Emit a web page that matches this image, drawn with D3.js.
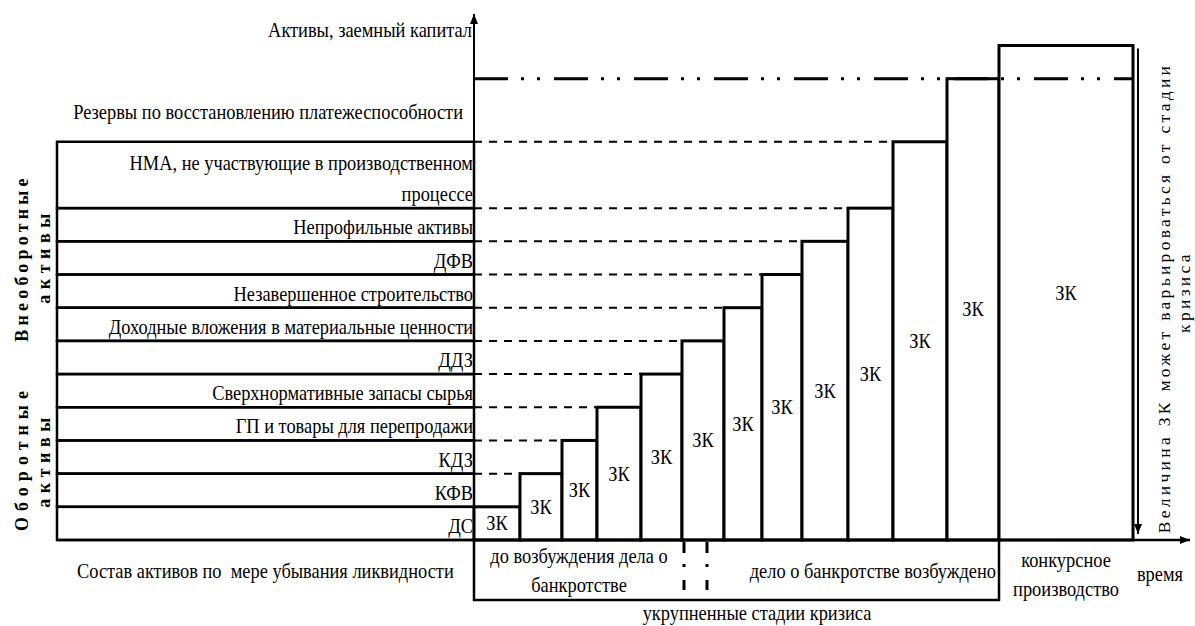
<!DOCTYPE html>
<html>
<head>
<meta charset="utf-8">
<script src="https://cdn.jsdelivr.net/npm/d3@7"></script>
</head>
<body style="margin:0">
<script>
// assets listed from most liquid (bottom) to least liquid (top)
const assetLabels = [
  ['ДС'], ['КФВ'], ['КДЗ'], ['ГП и товары для перепродажи'], ['Сверхнормативные запасы сырья'],
  ['ДДЗ'], ['Доходные вложения в материальные ценности'], ['Незавершенное строительство'],
  ['ДФВ'], ['Непрофильные активы'], ['НМА, не участвующие в производственном', 'процессе']
];
const assetSpans = [1, 1, 1, 1, 1, 1, 1, 1, 1, 1, 2];
const reserveLevel = 13.9;
const reserveLabel = 'Резервы по восстановлению платежеспособности';

// borrowed capital (ЗК) bars: level reached and time edges
const barLevels = [1, 2, 3, 4, 5, 6, 7, 8, 9, 10, 12, 13.9, 14.9];
const barEdges = [0, 46, 88, 123, 167, 208, 250, 288, 328, 374, 419, 473, 525, 659];
const barLabel = 'ЗК';

const stageLabels = [['до возбуждения дела о', 'банкротстве'], ['дело о банкротстве возбуждено'], ['конкурсное', 'производство']];
const stageRanges = [[0, 210], [233, 525], [525, 659]];

const width = 1195, height = 626;
const origin = { x: 474, y: 540 };
const tableLeft = 57;
const font = 'Liberation Serif';
const fs = 18.4, stretch = 1.12; // the scan's text is a bit taller than wide

const svg = d3.select('body').append('svg')
  .attr('width', width)
  .attr('height', height)
  .attr('font-family', font);

const x = d3.scaleLinear().domain([0, 716]).range([origin.x, 1190]);
const y = d3.scaleLinear().domain([0, 15.85]).range([origin.y, 14]);

const cum = d3.cumsum(assetSpans); // top level of each row

// dashed guides from axis to the bar that reaches the level
barLevels.forEach((lv, i) => {
  if (i === 0 || lv >= reserveLevel) return;
  svg.append('line')
    .attr('x1', x(0)).attr('x2', x(barEdges[i]))
    .attr('y1', y(lv)).attr('y2', y(lv))
    .attr('stroke', '#000').attr('stroke-width', 2)
    .attr('stroke-dasharray', '8,7');
});

const label = (sel, tx, ty, t, anchor) => sel.append('text')
  .attr('transform', `translate(${tx},${ty}) scale(1,${stretch})`)
  .attr('text-anchor', anchor)
  .attr('font-size', fs)
  .attr('font-family', font)
  .text(t);

// left table of assets
assetSpans.forEach((s, i) => {
  const top = cum[i], bottom = top - s;
  svg.append('rect')
    .attr('x', tableLeft).attr('y', y(top))
    .attr('width', origin.x - tableLeft).attr('height', y(bottom) - y(top))
    .attr('fill', 'none').attr('stroke', '#000').attr('stroke-width', 2.5);
  const lines = assetLabels[i];
  lines.forEach((t, j) => {
    label(svg, origin.x - 1, y(bottom) - 7 - (lines.length - 1 - j) * 31, t, 'end');
  });
});

label(svg, origin.x - 11, y(reserveLevel) + 40, reserveLabel, 'end');

// bars
const bars = svg.append('g');
barLevels.forEach((lv, i) => {
  const x0 = x(barEdges[i]), x1 = x(barEdges[i + 1]);
  bars.append('rect')
    .attr('x', x0).attr('y', y(lv))
    .attr('width', x1 - x0).attr('height', y(0) - y(lv))
    .attr('fill', '#fff').attr('stroke', '#000').attr('stroke-width', 3);
  label(bars, (x0 + x1) / 2, (y(lv) + y(0)) / 2 + 7, barLabel, 'middle');
});

// reserve line (dash-dot)
svg.append('line')
  .attr('x1', x(0)).attr('x2', x(barEdges[barEdges.length - 1]))
  .attr('y1', y(reserveLevel)).attr('y2', y(reserveLevel))
  .attr('stroke', '#000').attr('stroke-width', 3)
  .attr('stroke-dasharray', '34,13,3,13,3,14');

// bottom stage box
const boxBottom = 600;
svg.append('rect')
  .attr('x', x(0)).attr('y', origin.y)
  .attr('width', x(stageRanges[1][1]) - x(0)).attr('height', boxBottom - origin.y)
  .attr('fill', 'none').attr('stroke', '#000').attr('stroke-width', 2.5);

[stageRanges[0][1], stageRanges[1][0]].forEach(t => {
  svg.append('line')
    .attr('x1', x(t)).attr('x2', x(t))
    .attr('y1', origin.y + 2).attr('y2', boxBottom - 4)
    .attr('stroke', '#000').attr('stroke-width', 3)
    .attr('stroke-dasharray', '11,11,3,13,10');
});

const c0 = (x(0) + x(stageRanges[0][1])) / 2;
const c2 = (x(stageRanges[2][0]) + x(stageRanges[2][1])) / 2;
label(svg, c0, 563, stageLabels[0][0], 'middle');
label(svg, c0, 592, stageLabels[0][1], 'middle');
label(svg, x(stageRanges[1][1]) - 3, 578, stageLabels[1][0], 'end');
label(svg, c2, 567, stageLabels[2][0], 'middle');
label(svg, c2, 596, stageLabels[2][1], 'middle');

label(svg, 1160, 581, 'время', 'middle');
label(svg, 757, 620, 'укрупненные стадии кризиса', 'middle');
label(svg, 472, 37, 'Активы, заемный капитал', 'end');
label(svg, 77, 578, 'Состав активов по  мере убывания ликвидности', 'start')
  .style('white-space', 'pre');

// axes with arrows
const defs = svg.append('defs');
defs.append('marker')
  .attr('id', 'arrow').attr('viewBox', '0 0 10 10')
  .attr('refX', 10).attr('refY', 5)
  .attr('markerWidth', 13).attr('markerHeight', 10)
  .attr('markerUnits', 'userSpaceOnUse')
  .attr('orient', 'auto')
  .append('path').attr('d', 'M0,1 L10,5 L0,9 Z').attr('fill', '#000');

svg.append('line')
  .attr('x1', x(0)).attr('x2', x(0))
  .attr('y1', boxBottom).attr('y2', y.range()[1])
  .attr('stroke', '#000').attr('stroke-width', 2)
  .attr('marker-end', 'url(#arrow)');
svg.append('line')
  .attr('x1', tableLeft).attr('x2', x.range()[1])
  .attr('y1', origin.y).attr('y2', origin.y)
  .attr('stroke', '#000').attr('stroke-width', 2.5)
  .attr('marker-end', 'url(#arrow)');

// side arrow: size of ЗК varies by stage
const lastX = x(barEdges[barEdges.length - 1]);
svg.append('line')
  .attr('x1', lastX + 5).attr('x2', lastX + 5)
  .attr('y1', y(barLevels[barLevels.length - 1]) + 3).attr('y2', origin.y - 6)
  .attr('stroke', '#000').attr('stroke-width', 2)
  .attr('marker-end', 'url(#arrow)');

// rotated group labels
const rotLabel = (cx, cy, t, opts) => {
  svg.append('text')
    .attr('transform', `translate(${cx},${cy}) rotate(-90)`)
    .attr('text-anchor', 'middle')
    .attr('font-size', opts.size)
    .attr('font-weight', opts.bold ? 'bold' : null)
    .attr('letter-spacing', opts.ls)
    .attr('font-family', font)
    .text(t);
};
rotLabel(28, 258, 'Внеоборотные', { size: 18, bold: true, ls: 4.2 });
rotLabel(50, 256, 'активы', { size: 18, bold: true, ls: 5.5 });
rotLabel(28, 458, 'Оборотные', { size: 18, bold: true, ls: 6 });
rotLabel(50, 460, 'активы', { size: 18, bold: true, ls: 5.5 });
rotLabel(1170, 298, 'Величина ЗК может варьироваться от стадии', { size: 17.5, ls: 3.3 });
rotLabel(1190, 292, 'кризиса', { size: 17.5, ls: 3.3 });
</script>
</body>
</html>
